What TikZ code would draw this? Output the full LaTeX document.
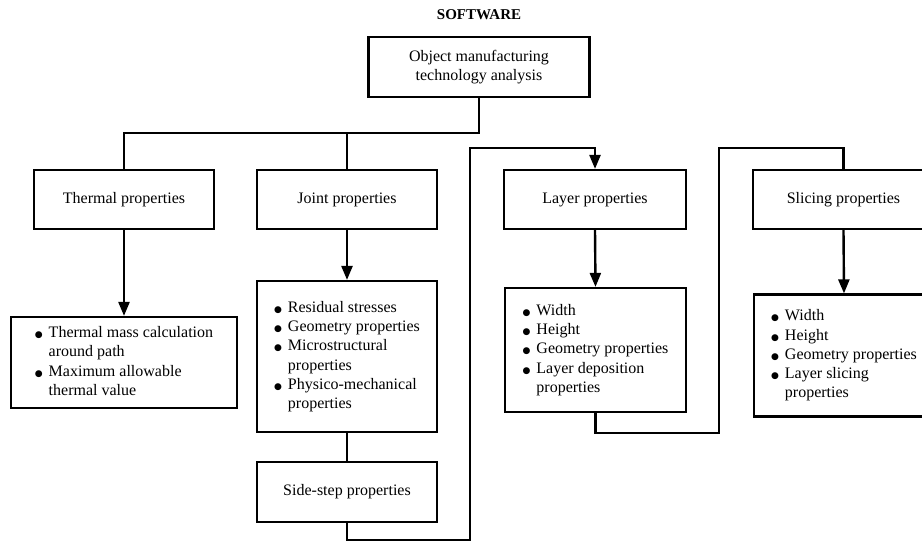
\documentclass[tikz,border=0pt]{standalone}
\usepackage{fontspec}
\setmainfont{Liberation Serif}
\newfontfamily\symf{DejaVu Sans}
\usetikzlibrary{arrows.meta}
\tikzset{
  box/.style={draw, line width=2.2pt, inner sep=0pt, align=center,
    font=\fontsize{16}{19.3}\selectfont},
  conn/.style={line width=2.4pt},
  arr/.style={conn, -{Triangle[length=14pt,width=11pt]}},
}
\newcommand{\bl}{{\symf\fontsize{9}{9}\selectfont ●}}
\newcommand{\blist}[1]{\begin{tabular}{@{}l@{\hspace{6pt}}l@{}}#1\end{tabular}}
\begin{document}
\begin{tikzpicture}[x=1pt,y=-1pt]
\useasboundingbox (0,0) rectangle (922,543);
\clip (0,0) rectangle (922,543);
\node[font=\fontsize{15}{18}\selectfont\bfseries] (title) at (479,15) {SOFTWARE};
\node[box, minimum width=221pt, minimum height=60pt] (top) at (479,67)
  {Object manufacturing\\technology analysis};
\node[box, minimum width=180pt, minimum height=59pt] (thermal) at (124,199.5) {Thermal properties};
\node[box, minimum width=180pt, minimum height=59pt] (joint) at (347,199.5) {Joint properties};
\node[box, minimum width=182pt, minimum height=59pt] (layer) at (595,199.5) {Layer properties};
\node[box, minimum width=181pt, minimum height=59pt] (slicing) at (843.5,199.5) {Slicing properties};
\node[box, minimum width=226pt, minimum height=91pt] (thermalB) at (124,362.5)
  {\blist{\bl & Thermal mass calculation\\ & around path\\ \bl & Maximum allowable\\ & thermal value}};
\node[box, minimum width=180pt, minimum height=151pt] (jointB) at (347,356.5)
  {\blist{\bl & Residual stresses\\ \bl & Geometry properties\\ \bl & Microstructural\\ & properties\\ \bl & Physico-mechanical\\ & properties}};
\node[box, minimum width=180pt, minimum height=60pt] (side) at (347,492) {Side-step properties};
\node[box, minimum width=181pt, minimum height=124pt] (layerB) at (595.5,350)
  {\blist{\bl & Width\\ \bl & Height\\ \bl & Geometry properties\\ \bl & Layer deposition\\ & properties}};
\node[box, minimum width=180pt, minimum height=122pt] (slicingB) at (844,355.5)
  {\blist{\bl & Width\\ \bl & Height\\ \bl & Geometry properties\\ \bl & Layer slicing\\ & properties}};
\coordinate (bus) at (479,133);
\coordinate (c1) at (470,540);
\coordinate (c2) at (470,148);
\coordinate (c3) at (719,433);
\coordinate (c4) at (719,148);
\draw[conn] (top.south) -- (top.south |- bus) -| (thermal.north);
\draw[conn] (joint.north) -- (joint.north |- bus);
\draw[arr] (thermal.south) -- (thermalB.north);
\draw[arr] (joint.south) -- (jointB.north);
\draw[conn] (jointB.south) -- (side.north);
\draw[arr] (side.south) |- (c1) -- (c2) -| (layer.north);
\draw[arr] (layer.south) -- (layerB.north);
\draw[conn] (layerB.south) |- (c3) -- (c4) -| (slicing.north);
\draw[arr] (slicing.south) -- (slicingB.north);
\end{tikzpicture}
\end{document}
